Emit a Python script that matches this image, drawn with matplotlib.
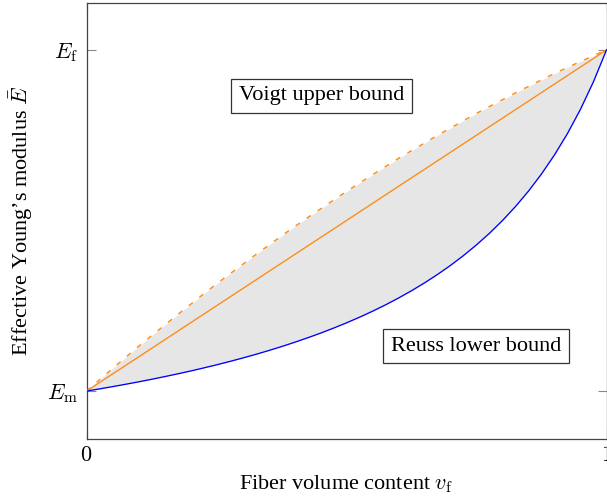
import matplotlib
matplotlib.use("Agg")
import matplotlib.pyplot as plt

plt.rcParams['font.family'] = ['Liberation Serif', 'DejaVu Serif']
plt.rcParams['mathtext.fontset'] = 'cm'

# Fiber volume fraction samples
v_f = [0.0, 0.025, 0.05, 0.075, 0.10, 0.125, 0.15, 0.175, 0.20, 0.225, 0.25,
       0.275, 0.30, 0.325, 0.35, 0.375, 0.40, 0.425, 0.45, 0.475, 0.50,
       0.525, 0.55, 0.575, 0.60, 0.625, 0.65, 0.675, 0.70, 0.725, 0.75,
       0.775, 0.80, 0.825, 0.85, 0.875, 0.90, 0.925, 0.95, 0.975, 1.0]
# Normalised modulus (0 = E_m, 1 = E_f)
voigt = [0.0, 0.025, 0.05, 0.075, 0.10, 0.125, 0.15, 0.175, 0.20, 0.225, 0.25,
         0.275, 0.30, 0.325, 0.35, 0.375, 0.40, 0.425, 0.45, 0.475, 0.50,
         0.525, 0.55, 0.575, 0.60, 0.625, 0.65, 0.675, 0.70, 0.725, 0.75,
         0.775, 0.80, 0.825, 0.85, 0.875, 0.90, 0.925, 0.95, 0.975, 1.0]
upper_dashed = [0.0, 0.0333, 0.066, 0.0986, 0.131, 0.1622, 0.193, 0.2241, 0.254, 0.2843, 0.314,
                0.3428, 0.371, 0.3996, 0.427, 0.4547, 0.482, 0.5081, 0.534, 0.5598, 0.585,
                0.6098, 0.634, 0.6581, 0.682, 0.7047, 0.727, 0.7496, 0.771, 0.7928, 0.814,
                0.8343, 0.854, 0.8741, 0.893, 0.9122, 0.931, 0.9486, 0.966, 0.9833, 1.0]
reuss = [0.0, 0.0064, 0.0130, 0.0199, 0.0270, 0.0345, 0.0423, 0.0504, 0.0588, 0.0677, 0.0769,
         0.0866, 0.0968, 0.1074, 0.1186, 0.1304, 0.1429, 0.1560, 0.1698, 0.1845, 0.2000,
         0.2165, 0.2340, 0.2527, 0.2727, 0.2941, 0.3171, 0.3418, 0.3684, 0.3973, 0.4286,
         0.4627, 0.5000, 0.5410, 0.5862, 0.6364, 0.6923, 0.7551, 0.8261, 0.9070, 1.0]

xtick_vals = [0, 1]
xtick_labels = ['$0$', '$1$']
ytick_vals = [0, 1]
ytick_labels = [r'$E_{\mathrm{m}}$', r'$E_{\mathrm{f}}$']

W, H = 607, 499
fig = plt.figure(figsize=(W / 100, H / 100), dpi=100)
ax = fig.add_axes([86.5 / W, (H - 438.5) / H, (606.5 - 86.5) / W, (438.5 - 2.5) / H])

orange = '#ff8a10'
ax.fill_between(v_f, reuss, upper_dashed, color='#e6e6e6', lw=0, zorder=1)
ax.plot(v_f, voigt, color=orange, lw=0.95, zorder=3)
ax.plot(v_f, upper_dashed, color=orange, lw=1.0, dashes=(3.6, 6.0), zorder=3)
ax.plot(v_f, reuss, color='#0000ff', lw=0.95, zorder=3)

ax.set_xlim(0, 1)
ax.set_ylim(-0.139, 1.139)
ax.set_xticks(xtick_vals)
ax.set_xticklabels(xtick_labels, fontsize=16)
ax.set_yticks(ytick_vals)
ax.set_yticklabels(ytick_labels, fontsize=16)
ax.tick_params(direction='in', length=6.5, width=0.8, color='#888888',
               top=True, right=True, pad=6)
for s in ax.spines.values():
    s.set_color('#444444')
    s.set_linewidth(0.9)

ax.set_xlabel(r'Fiber volume content $v_{\mathrm{f}}$', fontsize=16, labelpad=5)
ax.set_ylabel(r'Effective Young’s modulus $\bar{E}$', fontsize=16, labelpad=9)

box = dict(boxstyle='square,pad=0.35', fc='white', ec='#333333', lw=0.9)
ax.text(0.452, 0.865, 'Voigt upper bound', fontsize=16, ha='center', va='center',
        bbox=box, zorder=5)
ax.text(0.749, 0.132, 'Reuss lower bound', fontsize=16, ha='center', va='center',
        bbox=box, zorder=5)

fig.savefig('out.png', dpi=100)
